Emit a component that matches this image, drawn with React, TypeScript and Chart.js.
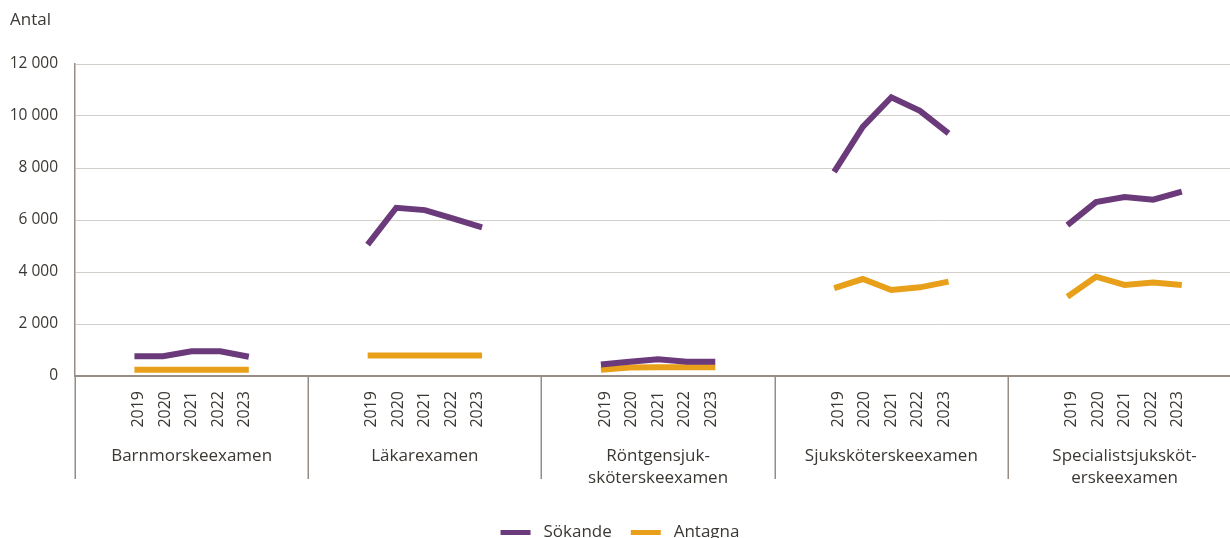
import React, { useEffect, useRef } from 'react';
import { Chart, registerables } from 'chart.js';

Chart.register(...registerables);

// ---- data ----
const GROUPS: string[][] = [
  ['Barnmorskeexamen'],
  ['Läkarexamen'],
  ['Röntgensjuk-', 'sköterskeexamen'],
  ['Sjuksköterskeexamen'],
  ['Specialistsjuksköt-', 'erskeexamen'],
];
const YEARS = ['2019', '2020', '2021', '2022', '2023'];
const SOKANDE: number[][] = [
  [760, 760, 950, 950, 740],
  [5050, 6470, 6380, 6050, 5720],
  [440, 545, 648, 550, 550],
  [7850, 9580, 10720, 10200, 9330],
  [5800, 6690, 6880, 6780, 7090],
];
const ANTAGNA: number[][] = [
  [240, 240, 240, 240, 240],
  [790, 790, 790, 790, 790],
  [240, 330, 340, 340, 340],
  [3380, 3730, 3310, 3410, 3630],
  [3050, 3820, 3500, 3600, 3500],
];
const SERIES_LABELS = ['Sökande', 'Antagna'];
const Y_MIN = 0;
const Y_MAX = 12000;
const Y_STEP = 2000;
const Y_TITLE = 'Antal';

// ---- style / layout ----
const FONT = "'Open Sans', 'Noto Sans', sans-serif";
const TEXT = '#3b3733';
const GRID = '#d2cfca';
const AXIS = '#958d86';
const PURPLE = '#6b3a7a';
const ORANGE = '#e8a01a';
const X_MAX = 4.952; // visible part of the 5 group slots
const POINT_STEP = 0.1226; // spacing of points inside a group (group units)
const LABEL_STEP = 0.1136; // spacing of year labels inside a group

const build = (series: number[][]) =>
  series.flatMap((vals, g) => [
    ...vals.map((v, i) => ({ x: g + 0.5 + (i - 2) * POINT_STEP, y: v })),
    { x: g + 1, y: null as number | null },
  ]);

const yearTickValues = GROUPS.flatMap((_, g) =>
  YEARS.map((_y, i) => g + 0.5 + (i - 2) * LABEL_STEP)
);
const groupTickValues = GROUPS.map((_, g) => g + 0.5);

const fmt = (v: number) => String(v).replace(/\B(?=(\d{3})+(?!\d))/g, ' ');

const separators = {
  id: 'separators',
  afterDraw(chart: any) {
    const xs = chart.scales.x;
    const gs = chart.scales.groups;
    const ctx = chart.ctx;
    ctx.save();
    ctx.strokeStyle = AXIS;
    ctx.lineWidth = 1.5;
    for (let g = 0; g < GROUPS.length; g++) {
      const px = Math.round(xs.getPixelForValue(g)) + 0.25;
      ctx.beginPath();
      ctx.moveTo(px, chart.chartArea.bottom);
      ctx.lineTo(px, gs.top + 51);
      ctx.stroke();
    }
    ctx.restore();
  },
};

export default function App() {
  const ref = useRef<HTMLCanvasElement>(null);
  useEffect(() => {
    document.body.style.margin = '0';
    const chart = new Chart(ref.current!, {
      type: 'line',
      data: {
        datasets: [
          {
            label: SERIES_LABELS[0],
            data: build(SOKANDE) as any,
            borderColor: PURPLE,
            backgroundColor: PURPLE,
            borderWidth: 6,
            pointRadius: 0,
            spanGaps: false,
            tension: 0,
          },
          {
            label: SERIES_LABELS[1],
            data: build(ANTAGNA) as any,
            borderColor: ORANGE,
            backgroundColor: ORANGE,
            borderWidth: 6,
            pointRadius: 0,
            spanGaps: false,
            tension: 0,
          },
        ],
      },
      options: {
        animation: false,
        responsive: false,
        devicePixelRatio: 1,
        layout: { padding: { left: 10, right: 0, top: 0, bottom: 0 } },
        plugins: {
          tooltip: { enabled: false },
          title: {
            display: true,
            text: Y_TITLE,
            align: 'start',
            color: TEXT,
            font: { family: FONT, size: 17, weight: 'normal' },
            padding: { top: 10, bottom: 33.6 },
          },
          legend: {
            position: 'bottom',
            labels: {
              boxWidth: 30,
              boxHeight: 5,
              padding: 19,
              color: TEXT,
              font: { family: FONT, size: 17 },
              generateLabels: (c: any) =>
                Chart.defaults.plugins.legend.labels
                  .generateLabels(c)
                  .map((l: any) => ({ ...l, text: ' ' + l.text, lineWidth: 0 })),
            },
          },
        },
        scales: {
          x: {
            type: 'linear',
            position: 'bottom',
            min: 0,
            max: X_MAX,
            bounds: 'data',
            weight: 0,
            afterBuildTicks: (s: any) => {
              s.ticks = yearTickValues.map((v) => ({ value: v }));
            },
            afterFit: (s: any) => {
              s.height = 52;
            },
            ticks: {
              autoSkip: false,
              minRotation: 90,
              maxRotation: 90,
              padding: 15,
              color: TEXT,
              font: { family: FONT, size: 16 },
              callback: (_v: any, i: number) => YEARS[i % YEARS.length],
            },
            grid: { display: false, drawTicks: false },
            border: { display: true, color: AXIS, width: 2 },
          },
          groups: {
            type: 'linear',
            position: 'bottom',
            min: 0,
            max: X_MAX,
            bounds: 'data',
            weight: 1,
            afterBuildTicks: (s: any) => {
              s.ticks = groupTickValues.map((v) => ({ value: v }));
            },
            afterFit: (s: any) => {
              s.height = 77;
            },
            ticks: {
              autoSkip: false,
              minRotation: 0,
              maxRotation: 0,
              padding: 17,
              color: TEXT,
              font: { family: FONT, size: 17, lineHeight: 1.3 },
              callback: (_v: any, i: number) => GROUPS[i],
            },
            grid: { display: false, drawTicks: false },
            border: { display: false },
          },
          y: {
            type: 'linear',
            min: Y_MIN,
            max: Y_MAX,
            afterFit: (s: any) => {
              s.width = 65;
            },
            ticks: {
              stepSize: Y_STEP,
              padding: 17,
              color: TEXT,
              font: { family: FONT, size: 15.5 },
              callback: (v: any) => fmt(Number(v)),
            },
            grid: {
              drawTicks: false,
              color: (c: any) => (c.tick && c.tick.value === 0 ? AXIS : GRID),
              lineWidth: (c: any) => (c.tick && c.tick.value === 0 ? 2 : 1),
            },
            border: { display: true, color: AXIS, width: 1.5 },
          },
        },
      } as any,
      plugins: [separators],
    });
    return () => chart.destroy();
  }, []);
  return (
    <div style={{ width: 1230, height: 538, overflow: 'hidden', background: '#fff' }}>
      <canvas ref={ref} width={1230} height={551} style={{ display: 'block' }} />
    </div>
  );
}
